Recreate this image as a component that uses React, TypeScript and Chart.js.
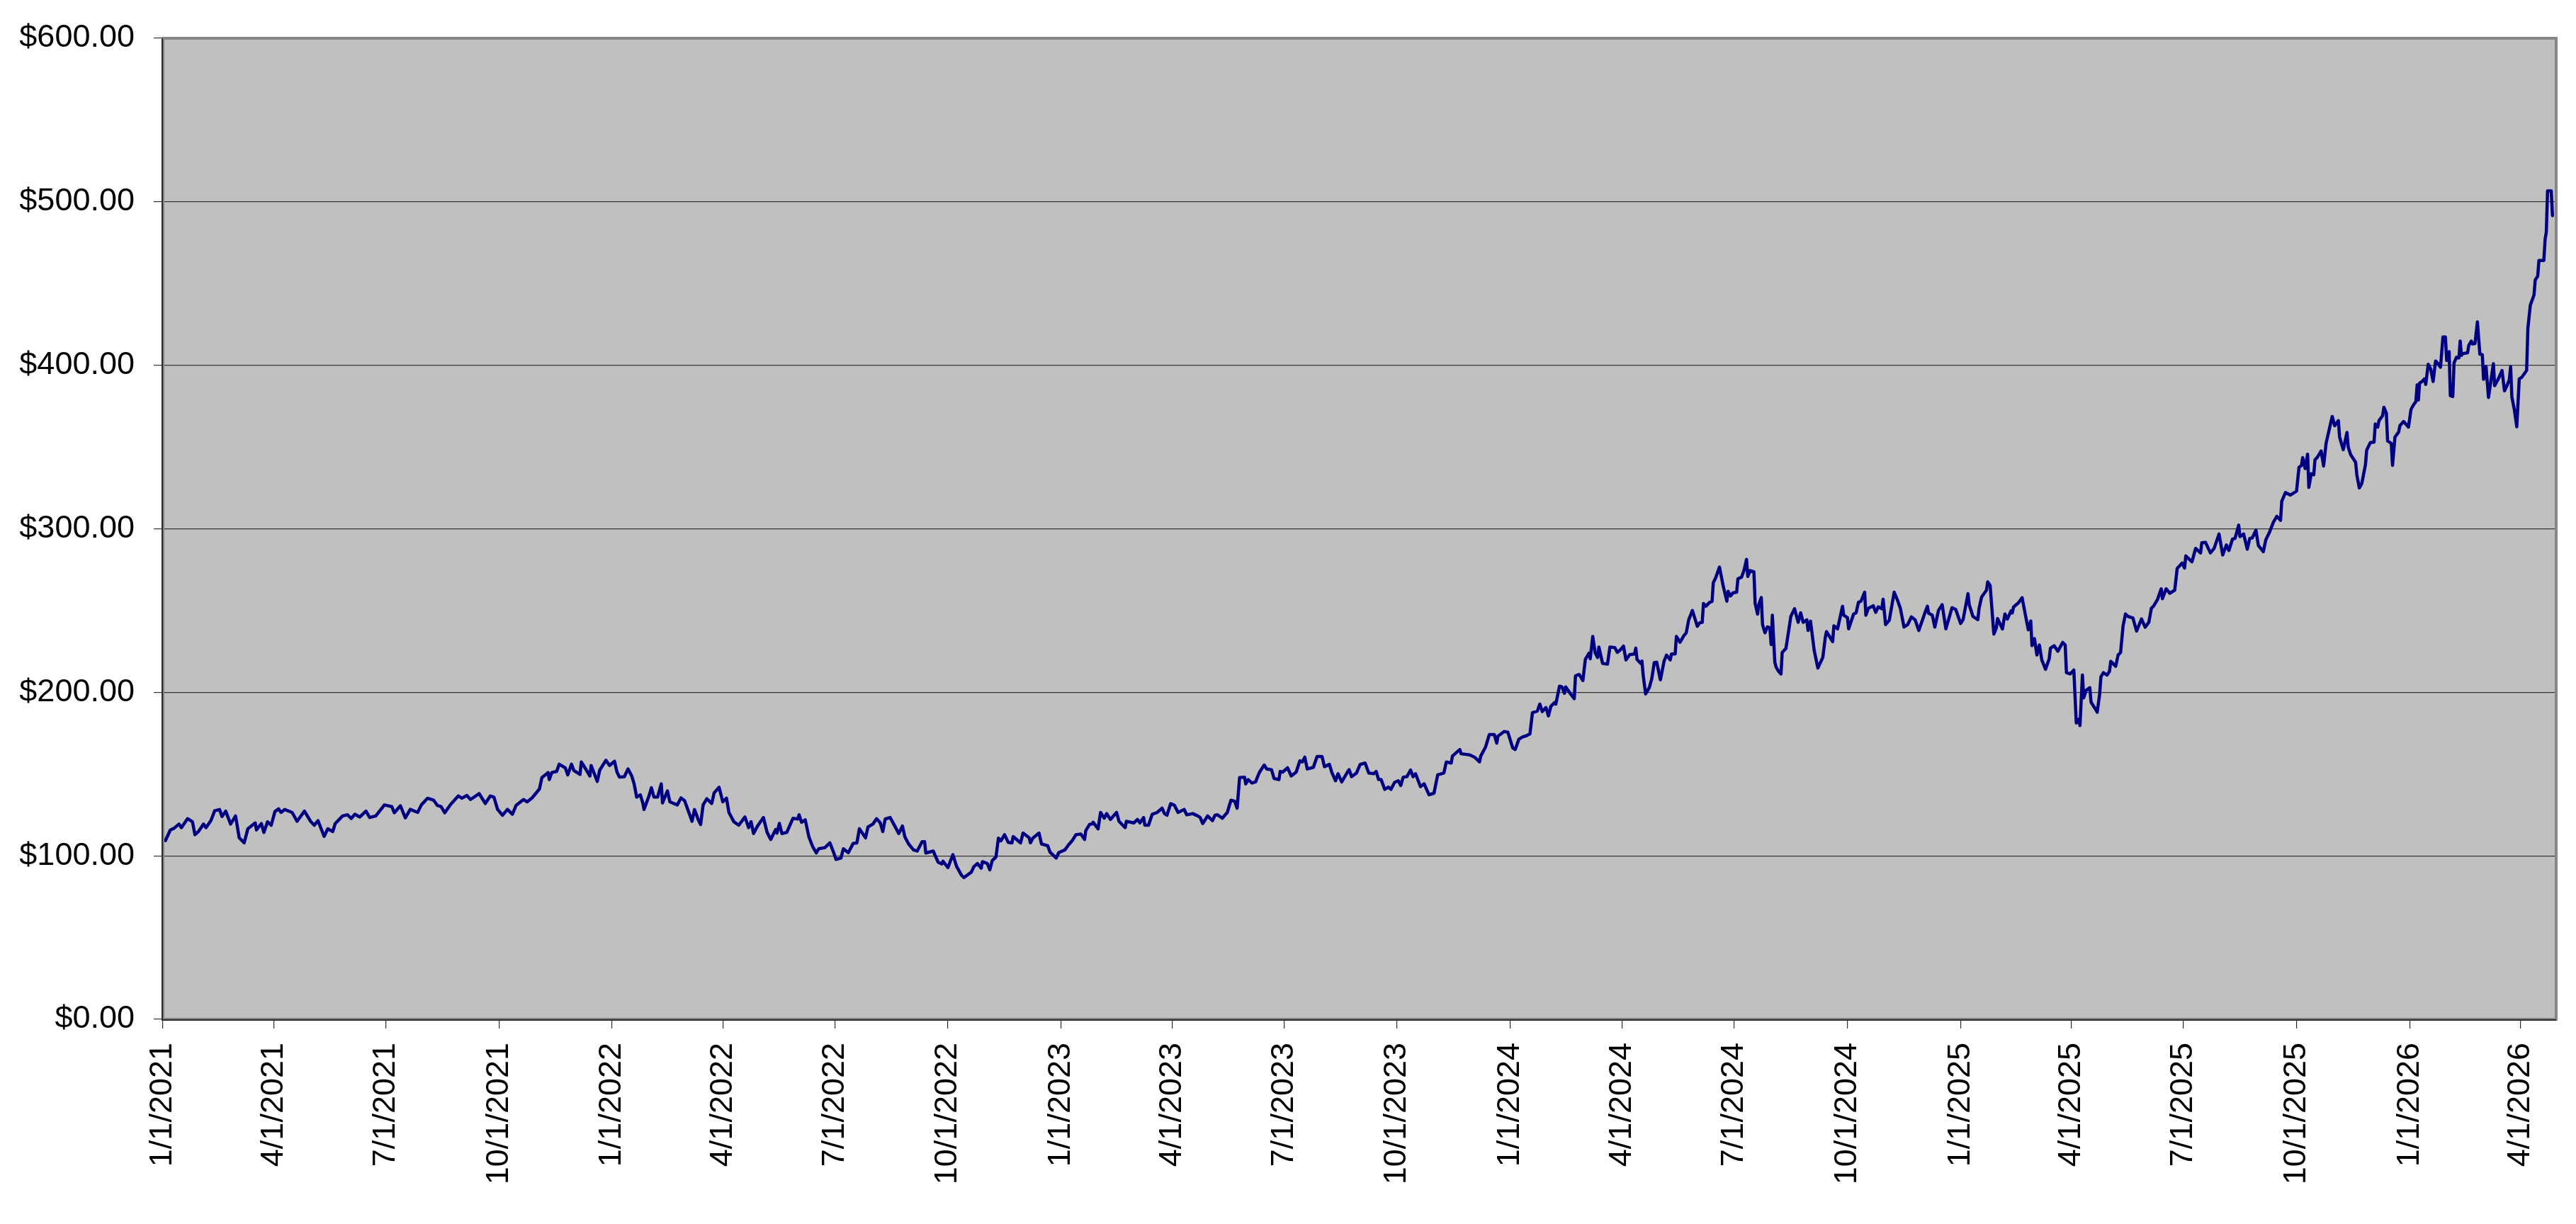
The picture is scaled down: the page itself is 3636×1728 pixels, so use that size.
import React, { useEffect, useRef } from "react";
import {
  Chart,
  LineController,
  LineElement,
  PointElement,
  LinearScale,
} from "chart.js";

Chart.register(LineController, LineElement, PointElement, LinearScale);

// day offsets are counted from 1/1/2021
const DAYS_2021 = [2,6,9,13,15,20,24,26,29,33,35,39,42,46,48,51,55,59,62,66,69,75,76,80,82,85,88,91,94,96,99,105,109,115,120,123,126,131,134,138,140,146,150,153,156,160,165,168,173,180,186,188,193,197,201,207,210,215,220,223,226,229,234,240,243,247,250,257,262,266,269,272,276,280,284,287,293,296,300,306,308,313,314,316,320,322,327,329,332,334,339,340,343,347,348,353,355,360,363,367];
const PRICE_2021 = [109.3,115.8,116.8,119.4,117.2,122.7,120.8,112.9,115,119.4,117.2,121.5,127.5,128.3,124,127.3,119.4,124.4,111,107.9,116.5,120.1,115.8,119.7,114.3,120.8,118.7,127,128.7,126.5,128.3,126.5,121.1,127.3,121.1,118.7,121.5,111.9,116.5,114.8,119.7,124.4,125.1,122.8,125.4,123.7,127.3,123.4,124.4,131.1,130.1,126.3,130.6,123.2,128.4,126.5,131.1,135.2,134,130.8,130.1,126.3,131.6,136.6,135.2,136.9,134.4,138,132,136.6,135.9,128.3,124.8,128.4,125.4,130.8,134.4,133,135.4,140.9,147.8,150.9,146.6,150.9,151.6,156,153.8,149.5,156,152.1,149.8,157.4,153.8,148.8,155.2,145.5,152.4,158.4,155.2,157.8];

const DAYS_2022 = [369,371,375,378,381,383,385,388,390,391,395,397,399,402,405,406,410,412,418,421,424,426,430,432,435,437,439,442,446,448,452,455,458,460,464,468,473,476,478,480,483,488,491,494,498,499,501,503,507,512,516,517,519,522,525,528,531,533,538,542,545,547,551,553,557,561,564,566,571,573,577,580,583,585,587,591,596,598,601,603,606,610,613,617,619,620,626,630,633,634,638,642,645,649,651,657,659,662,665,666,670,672,674,677,679,681,684,687,690,691,697,699,704,705,707,712,714,719,721,726,728,733];
const PRICE_2022 = [151.2,148.1,148.4,153.1,148.8,143.8,135.9,137.3,132.3,128.3,136.6,141.6,135.9,135.9,144,132.3,139.7,133,131.1,135.4,133.6,129.4,121.1,128.3,122.2,119.1,131.1,134.9,132,138.5,141.9,133,135.2,126.5,120.8,118.7,123.7,117.2,120.8,113.6,117.9,123.4,114.3,110,116.1,113.9,119.8,113.6,114.3,122.9,122.5,125.1,120.5,122,111.5,105.7,101.7,104.3,105,107.9,102.2,97.8,98.6,104.3,101.9,107.6,107.9,116.5,111,117.6,119.4,122.7,120.1,114.8,122.5,123.4,116.5,113.6,118.2,111.5,107.2,103.6,102.9,108.6,108.6,101.7,102.9,96.1,95,96.7,92.8,100.7,93.5,88.1,86.7,90,93.3,95.3,92.4,96.4,95.3,91.4,97.1,99.3,110.8,109.1,112.9,108.2,107.9,111.8,107.9,113.9,111,107.9,110.8,113.9,107.2,106.2,102.2,98.6,101.9,103.6];

const DAYS_2023 = [736,739,742,746,749,750,753,755,756,760,762,765,767,770,775,777,782,783,789,792,794,797,798,801,804,808,812,814,816,819,822,825,830,832,837,841,843,845,849,853,855,857,861,865,868,871,873,875,879,880,882,885,888,891,895,897,901,903,907,908,910,914,917,921,924,926,928,930,935,936,938,942,944,948,950,953,955,958,963,964,966,970,973,977,980,984,986,988,990,993,996,998,1001,1004,1006,1008,1011,1014,1016,1018,1022,1025,1029,1033,1036,1041,1043,1047,1048,1054,1055,1062,1066,1070,1071,1075,1078,1082,1084,1085,1090,1093,1097];
const PRICE_2023 = [106.7,109.3,112.9,113.3,110,115.4,119.1,119.4,120.5,116.5,126.5,123,125.8,122.2,126.5,121.1,117.2,121.1,120.1,122.2,120.1,123.4,118.7,118.7,125.4,126.5,129.1,125.8,124.8,131.9,130.9,126.5,128.3,125.1,125.8,124.4,123.4,119.7,124.4,121.5,124.8,125.1,123,126.5,134,133.4,129.1,147.8,148.1,144,146.6,144.5,145.2,150.9,155.5,153.1,152.6,147.3,146.6,151.6,151.2,153.8,148.8,151.2,158.1,157.4,160.3,153.1,154.1,156.4,160.7,160.7,154.5,155.9,150.9,145.9,150.2,145.2,151.6,152.7,148.4,150.6,155.9,156.7,150.6,150.2,151.6,146.6,146.6,140.6,142,140.6,144.9,145.9,143,148.1,148.4,152.4,148.4,150.2,142.3,144,137.3,138.3,149.5,150.6,157.4,156.7,161,165,162.4,161.7,160.3,157.4,161,166.7,174.2,174.2,168.9,173.2,176,175.6,166];

const DAYS_2024 = [1099,1102,1105,1108,1111,1113,1117,1119,1121,1124,1126,1128,1131,1132,1135,1137,1139,1140,1144,1147,1148,1151,1154,1156,1159,1160,1162,1164,1166,1167,1170,1174,1176,1180,1182,1184,1187,1189,1192,1196,1197,1198,1201,1202,1203,1205,1208,1210,1212,1214,1217,1220,1222,1225,1226,1229,1230,1233,1236,1238,1240,1243,1247,1249,1251,1252,1254,1257,1259,1260,1262,1265,1268,1271,1272,1274,1276,1279,1280,1283,1285,1287,1288,1290,1293,1294,1296,1297,1299,1300,1302,1304,1306,1307,1308,1309,1310,1311,1313,1315,1316,1319,1321,1323,1326,1329,1331,1333,1336,1337,1339,1342,1345,1349,1351,1352,1357,1358,1361,1365,1366,1369,1370,1374,1376,1378,1380,1383,1384,1386,1390,1392,1394,1397,1398,1400,1403,1407,1410,1412,1415,1418,1421,1424,1427,1432,1434,1435,1438,1440,1443,1446,1449,1454,1457,1461];
const PRICE_2024 = [165,171.3,172.7,173.4,174.6,187.5,188.5,192.8,188.2,190.7,185.6,191.4,193.7,192.8,203.7,203.3,199.4,203.3,199,196.1,210.1,210.9,207.2,220.1,223.9,220.5,234.2,224.1,221.3,227.7,217.7,217.2,227.7,227.3,224.4,225.6,228.2,219.8,223,223.4,227,220.1,217.7,219.1,210.5,199,202.9,208.3,218.1,218.4,207.6,219.1,222.7,219.8,223.4,223.4,234.2,230.6,234.5,236.4,244.3,250,240.4,242.5,242.8,254.3,252.6,255,255.5,267,270.1,276.6,265.1,255.7,261.8,258.9,260.8,261.2,269.4,270.4,274.7,281.3,270.8,274.4,273.7,254.3,247.8,253.6,257.9,241.4,236.4,240,239.3,229.2,247.1,232.8,218.4,215.5,212.9,211.2,224.4,226.7,236.4,246.4,251.1,242.8,248.6,242.8,244.3,237.8,243.5,225.6,214.8,221.3,233.5,237.1,231,240.7,238.8,252.6,247.1,245.7,238.8,247.8,248.6,255,255.7,261.2,247.1,251.4,252.9,248.9,252.2,251.1,256.9,241.4,244,261.2,255.7,251.4,239.9,241.4,246.1,244.3,237.8,248.6,252.6,248.3,247.1,239.9,250,253.6,238.8,251.7,250.7,242.1];

const DAYS_2025 = [1463,1467,1468,1471,1475,1476,1478,1482,1483,1485,1488,1490,1491,1495,1497,1499,1502,1503,1504,1508,1511,1513,1516,1518,1519,1521,1523,1525,1527,1530,1533,1534,1537,1540,1544,1546,1547,1550,1553,1555,1557,1558,1560,1561,1563,1566,1567,1570,1572,1574,1575,1577,1580,1582,1583,1587,1589,1591,1593,1595,1597,1601,1604,1608,1611,1614,1616,1618,1621,1624,1625,1628,1631,1635,1637,1641,1643,1644,1649,1652,1656,1657,1660,1661,1664,1667,1671,1674,1677,1679,1682,1684,1687,1688,1691,1694,1696,1698,1701,1703,1707,1709,1712,1715,1718,1721,1722,1725,1729,1734,1736,1738,1739,1741,1743,1744,1746,1748,1749,1751,1754,1756,1758,1761,1763,1765,1768,1769,1772,1775,1776,1778,1782,1783,1785,1787,1790,1791,1794,1797,1798,1800,1801,1804,1805,1807,1808,1811,1812,1814,1817,1818,1821,1825];
const PRICE_2025 = [244.4,260.3,253.6,246.4,244.4,251.3,258.2,262.4,267.5,265.2,235.6,239.3,245.1,238.7,247.9,244.8,249.8,248.5,252.1,254.7,257.8,249.8,238.2,243.6,228.5,232.8,222.8,228.9,219.7,214,220.5,227,228.5,225.1,230.5,228.9,212,211.2,213.6,181.2,183.5,179.7,210.5,196.6,201.2,202.8,194,190.4,187.8,198.9,209.4,212,210.5,212.8,218.9,215.9,222.8,224.3,240.5,247.9,246.4,245.5,237.4,244.8,239.8,242.9,251.3,252.9,256.7,263.3,257.2,263.3,260.6,262.4,275.7,279,276,283.4,279.8,288,285.2,291.4,291.7,290.1,285.2,288,296.8,284,290.1,286.7,293.7,294.1,302.2,295.2,296.8,287.5,294.1,294.4,299.1,289.8,286,293.2,297.8,303.7,307.6,305.2,316.8,322.2,320.6,323,337.6,338.7,343.5,336.8,345.6,325.3,333.7,333,342.2,343.8,347.6,338.4,352.2,362.2,368.7,363,366.1,356.1,348.4,358.9,349.9,345.3,340.7,333,325,327.6,339.1,348.1,352.7,353,364.1,362.2,366.1,369.2,374.3,370.7,353.8,352.2,338.8,356.1,359.2,363,365.6,362.2];

const DAYS_2026 = [1827,1829,1831,1832,1833,1834,1836,1838,1839,1841,1843,1845,1847,1849,1851,1853,1855,1856,1858,1859,1861,1862,1864,1866,1867,1868,1869,1873,1874,1876,1877,1879,1881,1883,1885,1886,1888,1890,1892,1894,1895,1898,1901,1903,1905,1907,1908,1909,1911,1913,1915,1917,1921,1922,1924,1927,1928,1930,1931,1935,1936,1937,1938,1941,1942];
const PRICE_2026 = [372.9,375.7,377.8,388,378.7,389.1,390.1,391.7,388.3,400.6,397.8,390.1,402.6,401,398.8,417.3,417.3,402.9,408.3,381.4,380.9,401.4,404.9,404.5,414.8,406,407.1,407.6,412.2,414.8,413,413.3,426.5,406.8,406.5,391.4,399.1,380.3,390.6,400.9,387.5,391.7,396.8,384.4,387.5,391.4,399.1,380.6,372.9,362.4,391.7,392.6,396.8,422.5,436.8,443,452.2,454.5,464.1,464.1,476.9,481.5,506.6,506.6,491.5];

const TICK_LABELS = [
  "1/1/2021", "4/1/2021", "7/1/2021", "10/1/2021",
  "1/1/2022", "4/1/2022", "7/1/2022", "10/1/2022",
  "1/1/2023", "4/1/2023", "7/1/2023", "10/1/2023",
  "1/1/2024", "4/1/2024", "7/1/2024", "10/1/2024",
  "1/1/2025", "4/1/2025", "7/1/2025", "10/1/2025",
  "1/1/2026", "4/1/2026",
];

const Y_TICKS = [0, 100, 200, 300, 400, 500, 600];

const LAST_DAY = 1945;

const PLOT_BG = "#C0C0C0";
const LINE_COLOR = "#000080";
const FONT = "'Liberation Sans', Arial, Helvetica, sans-serif";

const START = Date.UTC(2021, 0, 1);
const dayOf = (label: string) => {
  const [m, d, y] = label.split("/").map(Number);
  return Math.round((Date.UTC(y, m - 1, d) - START) / 86400000);
};
const TICK_DAYS = TICK_LABELS.map(dayOf);

const SEGMENTS: [number[], number[]][] = [
  [DAYS_2021, PRICE_2021],
  [DAYS_2022, PRICE_2022],
  [DAYS_2023, PRICE_2023],
  [DAYS_2024, PRICE_2024],
  [DAYS_2025, PRICE_2025],
  [DAYS_2026, PRICE_2026],
];

const points = SEGMENTS.flatMap(([days, prices]) =>
  days.slice(0, prices.length).map((d, i) => ({ x: d, y: prices[i] }))
);

const plotFrame = {
  id: "plotFrame",
  beforeDraw(chart: Chart) {
    const { ctx, chartArea: a } = chart;
    ctx.save();
    ctx.fillStyle = PLOT_BG;
    ctx.fillRect(a.left, a.top, a.right - a.left, a.bottom - a.top);
    ctx.restore();
  },
  afterDatasetsDraw(chart: Chart) {
    const { ctx, chartArea: a } = chart;
    ctx.save();
    ctx.strokeStyle = "#868686";
    ctx.lineWidth = 4;
    ctx.strokeRect(a.left, a.top, a.right - a.left, a.bottom - a.top);
    ctx.strokeStyle = "#2a2a2a";
    ctx.lineWidth = 2;
    ctx.beginPath();
    ctx.moveTo(a.left - 1, a.top);
    ctx.lineTo(a.left - 1, a.bottom + 1);
    ctx.lineTo(a.right, a.bottom + 1);
    ctx.stroke();
    ctx.restore();
  },
};

export default function App() {
  const canvasRef = useRef<HTMLCanvasElement>(null);

  useEffect(() => {
    if (!canvasRef.current) return;

    Chart.defaults.font.family = FONT;
    Chart.defaults.font.size = 45;
    Chart.defaults.color = "#000";

    const chart = new Chart(canvasRef.current, {
      type: "line",
      data: {
        datasets: [
          {
            data: points,
            borderColor: LINE_COLOR,
            borderWidth: 4.5,
            borderJoinStyle: "round",
            borderCapStyle: "round",
            pointRadius: 0,
            tension: 0,
            fill: false,
          },
        ],
      },
      options: {
        responsive: false,
        devicePixelRatio: 1,
        animation: false,
        parsing: false,
        layout: { padding: { top: 44, right: 28, left: 0, bottom: 0 } },
        plugins: { legend: { display: false }, tooltip: { enabled: false } },
        scales: {
          x: {
            type: "linear",
            min: 0,
            max: LAST_DAY,
            afterBuildTicks: (scale) => {
              scale.ticks = TICK_DAYS.map((value) => ({ value }));
            },
            afterFit: (scale) => {
              scale.height = 289;
            },
            ticks: {
              autoSkip: false,
              minRotation: 90,
              maxRotation: 90,
              padding: 20,
              callback: (_v, i) => TICK_LABELS[i],
            },
            grid: {
              drawOnChartArea: false,
              drawTicks: true,
              tickLength: 13,
              color: "#303030",
              lineWidth: 1.2,
            },
            border: { display: false },
          },
          y: {
            type: "linear",
            min: 0,
            max: 600,
            afterBuildTicks: (scale) => {
              scale.ticks = Y_TICKS.map((value) => ({ value }));
            },
            afterFit: (scale) => {
              scale.width = 230;
            },
            ticks: {
              padding: 27,
              callback: (v) => "$" + Number(v).toFixed(2),
            },
            grid: {
              color: "#353535",
              lineWidth: 1.2,
              tickLength: 13,
            },
            border: { display: false },
          },
        },
      },
      plugins: [plotFrame],
    });

    return () => chart.destroy();
  }, []);

  return (
    <div
      style={{
        position: "fixed",
        left: 0,
        top: 0,
        width: 3636,
        height: 1728,
        overflow: "hidden",
        background: "#fff",
      }}
    >
      <canvas
        ref={canvasRef}
        width={3636}
        height={1728}
        style={{ display: "block" }}
      />
    </div>
  );
}
